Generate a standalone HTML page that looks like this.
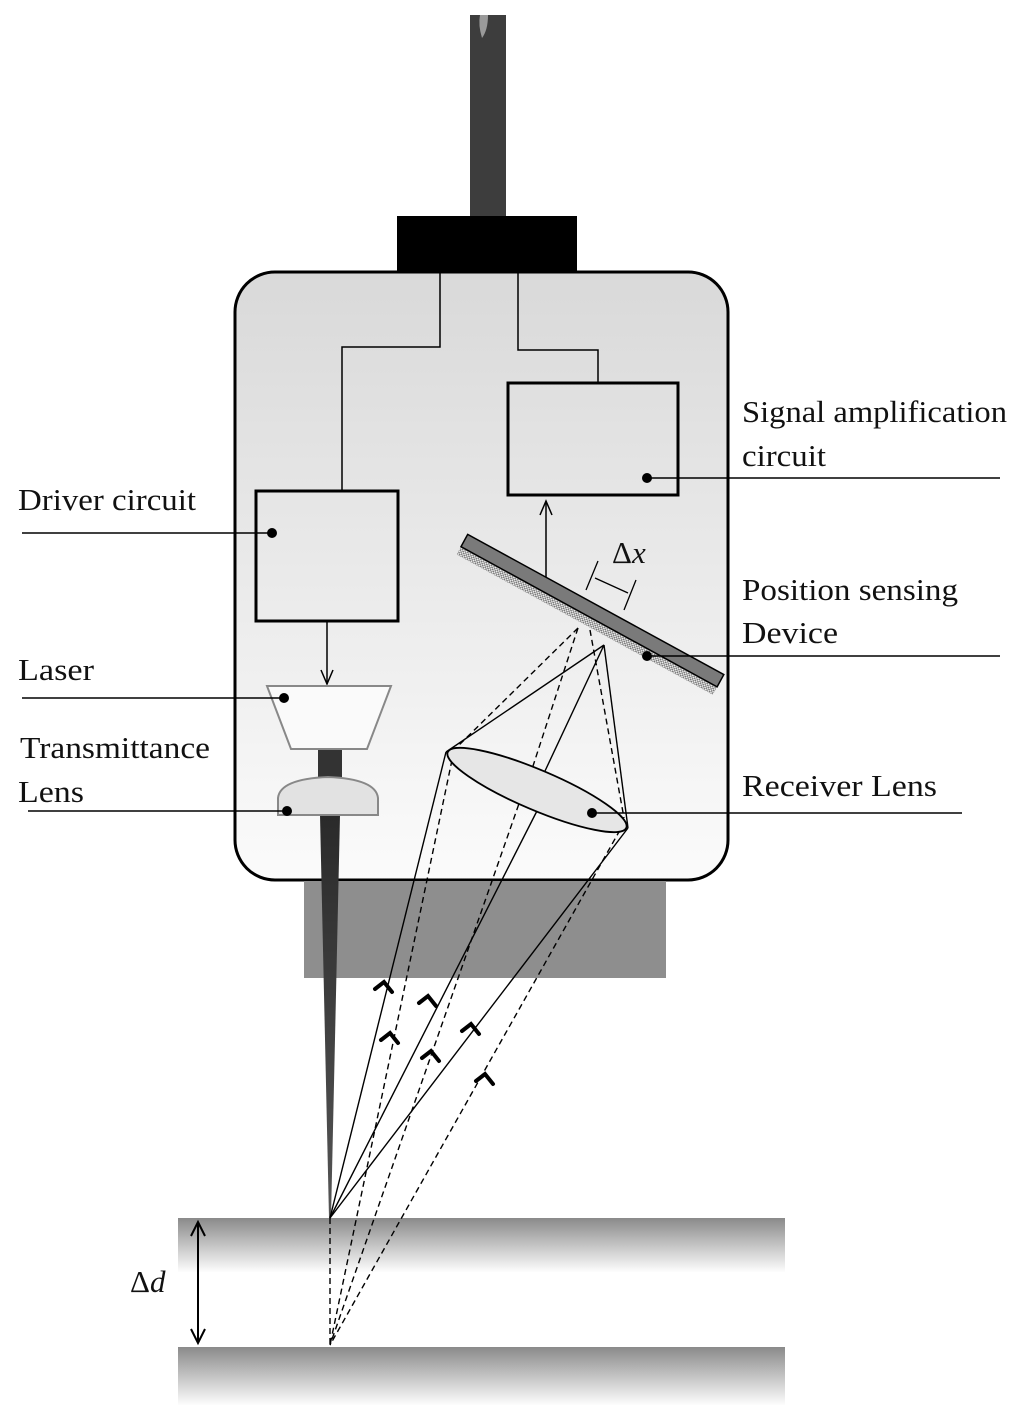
<!DOCTYPE html>
<html><head><meta charset="utf-8"><style>
html,body{margin:0;padding:0;background:#fff}
svg{display:block}
text{font-family:"Liberation Serif",serif;font-size:31px;fill:#111}
</style></head><body>
<svg width="1024" height="1419" viewBox="0 0 1024 1419" xmlns="http://www.w3.org/2000/svg">
<defs>
<linearGradient id="hous" x1="0" y1="0" x2="0" y2="1">
<stop offset="0" stop-color="#d9d9d9"/><stop offset="1" stop-color="#fbfbfb"/></linearGradient>
<linearGradient id="surf" x1="0" y1="0" x2="0" y2="1">
<stop offset="0" stop-color="#8a8a8a"/><stop offset="1" stop-color="#fdfdfd"/></linearGradient>
<linearGradient id="beam" x1="0" y1="0" x2="0" y2="1">
<stop offset="0" stop-color="#2a2a2a"/><stop offset="1" stop-color="#555"/></linearGradient>
<pattern id="dots" width="3" height="3" patternUnits="userSpaceOnUse">
<rect width="3" height="3" fill="#eee"/><rect width="1.5" height="1.5" fill="#777"/><rect x="1.5" y="1.5" width="1.5" height="1.5" fill="#777"/></pattern>
</defs>
<!-- surfaces -->
<rect x="178" y="1218" width="607" height="54" fill="url(#surf)"/>
<rect x="178" y="1347" width="607" height="58" fill="url(#surf)"/>
<!-- cable -->
<rect x="470" y="15" width="36" height="205" fill="#3d3d3d"/>
<path d="M480,15 Q478,25 482,38 Q488,30 488,15 Z" fill="#9a9a9a"/>
<!-- housing -->
<rect x="235" y="272" width="493" height="608" rx="40" fill="url(#hous)" stroke="#000" stroke-width="3"/>
<rect x="397" y="216" width="180" height="56" fill="#000"/>
<rect x="304" y="881" width="362" height="97" fill="#8e8e8e"/>
<!-- wires -->
<path d="M440,272 V347 H342 V491" fill="none" stroke="#000" stroke-width="1.5"/>
<path d="M518,272 V350 H598 V383" fill="none" stroke="#000" stroke-width="1.5"/>
<!-- boxes -->
<rect x="256" y="491" width="142" height="130" fill="none" stroke="#000" stroke-width="3"/>
<rect x="508" y="383" width="170" height="112" fill="none" stroke="#000" stroke-width="3"/>
<line x1="327" y1="621" x2="327" y2="684" stroke="#000" stroke-width="1.5"/>
<path d="M321,670 L327,684 L333,670" fill="none" stroke="#000" stroke-width="1.5"/>
<line x1="546" y1="583" x2="546" y2="502" stroke="#000" stroke-width="1.5"/>
<path d="M540,515 L546,501 L552,515" fill="none" stroke="#000" stroke-width="1.5"/>
<!-- beam -->
<polygon points="320,815 340,815 331,1218 329,1218" fill="url(#beam)"/>
<rect x="318" y="749" width="24" height="30" fill="#333"/>
<!-- laser -->
<polygon points="267,686 391,686 367,749 291,749" fill="#fafafa" stroke="#888" stroke-width="2"/>
<!-- transmittance lens -->
<path d="M278,815 V798 Q280,779 328,777 Q376,779 378,798 V815 Z" fill="#e2e2e2" stroke="#888" stroke-width="2"/>
<!-- PSD -->
<g transform="translate(590,615) rotate(28.7)">
<rect x="-146" y="2" width="292" height="9" fill="url(#dots)"/>
<rect x="-146" y="-12" width="292" height="14" fill="#7a7a7a" stroke="#000" stroke-width="1.5"/>
</g>
<!-- delta x -->
<line x1="598" y1="561" x2="586" y2="590" stroke="#000" stroke-width="1.3"/>
<line x1="636" y1="580" x2="624" y2="610" stroke="#000" stroke-width="1.3"/>
<line x1="595" y1="578" x2="628" y2="593" stroke="#000" stroke-width="1.3"/>
<text x="612" y="563" font-size="28">Δ<tspan font-style="italic">x</tspan></text>
<!-- rays inside -->
<g stroke="#000" stroke-width="1.4" fill="none">
<line x1="604" y1="645" x2="446" y2="752"/>
<line x1="604" y1="645" x2="628" y2="828"/>
<line x1="604" y1="645" x2="545" y2="771"/>
<line x1="446" y1="752" x2="330" y2="1218"/>
<line x1="540" y1="805" x2="330" y2="1218"/>
<line x1="628" y1="828" x2="330" y2="1218"/>
</g>
<g stroke="#000" stroke-width="1.4" fill="none" stroke-dasharray="6,4">
<line x1="578" y1="628" x2="452" y2="752"/>
<line x1="578" y1="628" x2="533" y2="766"/>
<line x1="590" y1="630" x2="624" y2="818"/>
<line x1="452" y1="760" x2="330" y2="1345"/>
<line x1="522" y1="795" x2="330" y2="1345"/>
<line x1="620" y1="830" x2="330" y2="1345"/>
<line x1="330" y1="1218" x2="330" y2="1345"/>
</g>
<!-- receiver lens -->
<ellipse cx="537" cy="790" rx="97" ry="20" transform="rotate(23 537 790)" fill="#e6e6e6" stroke="#000" stroke-width="1.8"/>
<!-- chevrons -->
<g fill="none" stroke="#000" stroke-width="4" stroke-linecap="round">
<path d="M375,989 L384,982 L392,992"/>
<path d="M381,1040 L390,1033 L398,1043"/>
<path d="M419,1003 L428,996 L436,1006"/>
<path d="M422,1058 L431,1051 L439,1061"/>
<path d="M462,1031 L471,1024 L479,1034"/>
<path d="M476,1081 L485,1074 L493,1084"/>
</g>
<line x1="198" y1="1222" x2="198" y2="1343" stroke="#000" stroke-width="2"/>
<path d="M191,1236 L198,1222 L205,1236 M191,1329 L198,1343 L205,1329" fill="none" stroke="#000" stroke-width="2"/>
<text x="130" y="1292" font-size="36">Δ<tspan font-style="italic">d</tspan></text>
<!-- label lines and dots -->
<g stroke="#000" stroke-width="1.6">
<line x1="22" y1="533" x2="272" y2="533"/>
<line x1="22" y1="698" x2="285" y2="698"/>
<line x1="28" y1="811" x2="287" y2="811"/>
<line x1="647" y1="478" x2="1000" y2="478"/>
<line x1="647" y1="656" x2="1000" y2="656"/>
<line x1="592" y1="813" x2="962" y2="813"/>
</g>
<g fill="#000">
<circle cx="272" cy="533" r="5"/><circle cx="284" cy="698" r="5"/><circle cx="287" cy="811" r="5"/>
<circle cx="647" cy="478" r="5"/><circle cx="647" cy="656" r="5"/><circle cx="592" cy="813" r="5"/>
</g>
<!-- labels -->
<g lengthAdjust="spacingAndGlyphs">
<text x="18" y="510" textLength="178" lengthAdjust="spacingAndGlyphs">Driver circuit</text>
<text x="18" y="680" textLength="76" lengthAdjust="spacingAndGlyphs">Laser</text>
<text x="20" y="758" textLength="190" lengthAdjust="spacingAndGlyphs">Transmittance</text>
<text x="18" y="802" textLength="66" lengthAdjust="spacingAndGlyphs">Lens</text>
<text x="742" y="422" textLength="265" lengthAdjust="spacingAndGlyphs">Signal amplification</text>
<text x="742" y="466" textLength="84" lengthAdjust="spacingAndGlyphs">circuit</text>
<text x="742" y="600" textLength="216" lengthAdjust="spacingAndGlyphs">Position sensing</text>
<text x="742" y="643" textLength="96" lengthAdjust="spacingAndGlyphs">Device</text>
<text x="742" y="796" textLength="195" lengthAdjust="spacingAndGlyphs">Receiver Lens</text>
</g>
</svg>
</body></html>
